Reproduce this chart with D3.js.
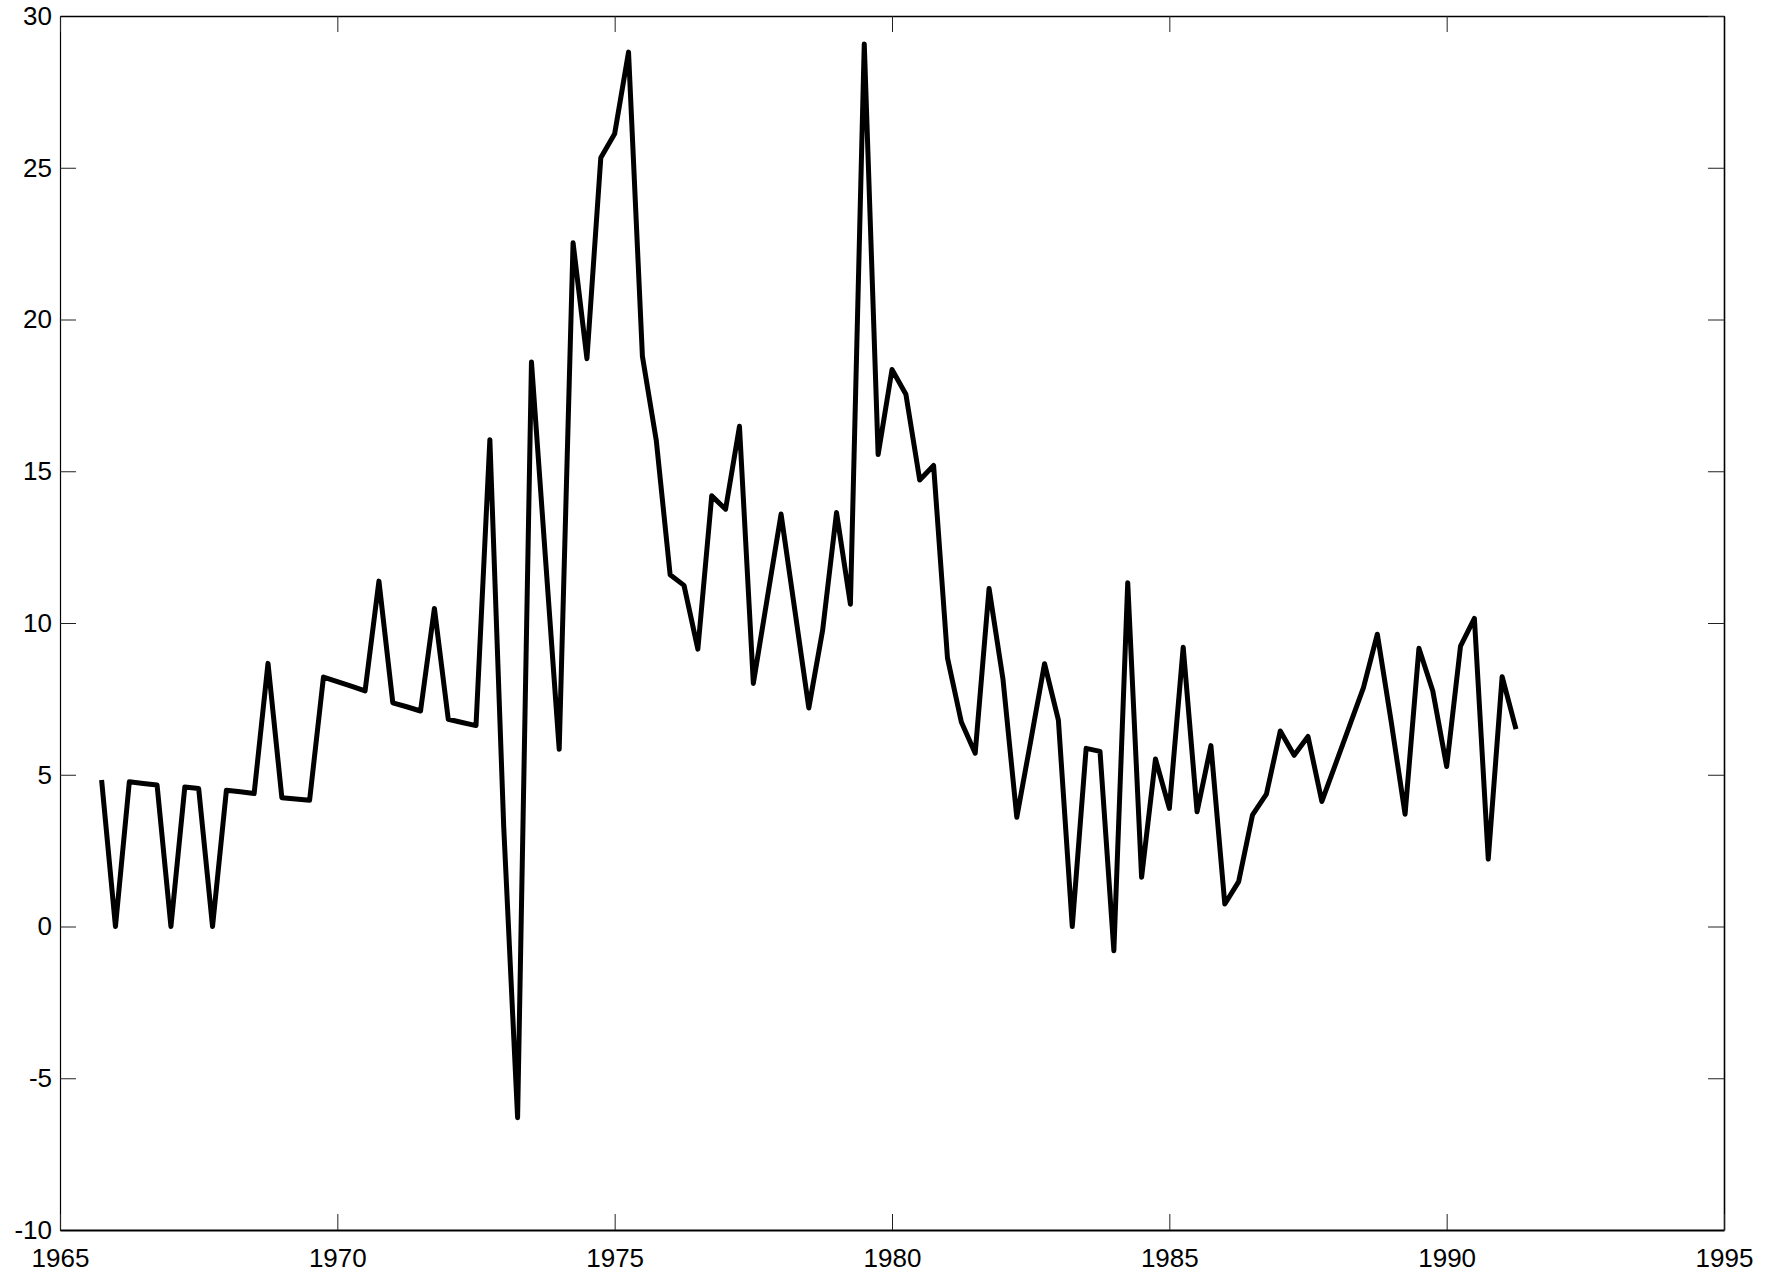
<!DOCTYPE html>
<html>
<head>
<meta charset="utf-8">
<script src="https://cdn.jsdelivr.net/npm/d3@7"></script>
<style>
    html, body { margin: 0; padding: 0; background: #fff; }
    #chart { width: 1771px; height: 1272px; }
    .tick text { font-family: "Liberation Sans", Arial, Helvetica, sans-serif; font-size: 26px; fill: #000; }
    .tick line { stroke: #222; stroke-width: 1; }
</style>
</head>
<body>
<div id="chart"></div>
<script>

const quarters = [
    "1965Q4",
    "1966Q1", "1966Q2", "1966Q3", "1966Q4",
    "1967Q1", "1967Q2", "1967Q3", "1967Q4",
    "1968Q1", "1968Q2", "1968Q3", "1968Q4",
    "1969Q1", "1969Q2", "1969Q3", "1969Q4",
    "1970Q1", "1970Q2", "1970Q3", "1970Q4",
    "1971Q1", "1971Q2", "1971Q3", "1971Q4",
    "1972Q1", "1972Q2", "1972Q3", "1972Q4",
    "1973Q1", "1973Q2", "1973Q3", "1973Q4",
    "1974Q1", "1974Q2", "1974Q3", "1974Q4",
    "1975Q1", "1975Q2", "1975Q3", "1975Q4",
    "1976Q1", "1976Q2", "1976Q3", "1976Q4",
    "1977Q1", "1977Q2", "1977Q3", "1977Q4",
    "1978Q1", "1978Q2", "1978Q3", "1978Q4",
    "1979Q1", "1979Q2", "1979Q3", "1979Q4",
    "1980Q1", "1980Q2", "1980Q3", "1980Q4",
    "1981Q1", "1981Q2", "1981Q3", "1981Q4",
    "1982Q1", "1982Q2", "1982Q3", "1982Q4",
    "1983Q1", "1983Q2", "1983Q3", "1983Q4",
    "1984Q1", "1984Q2", "1984Q3", "1984Q4",
    "1985Q1", "1985Q2", "1985Q3", "1985Q4",
    "1986Q1", "1986Q2", "1986Q3", "1986Q4",
    "1987Q1", "1987Q2", "1987Q3", "1987Q4",
    "1988Q1", "1988Q2", "1988Q3", "1988Q4",
    "1989Q1", "1989Q2", "1989Q3", "1989Q4",
    "1990Q1", "1990Q2", "1990Q3", "1990Q4",
    "1991Q1", "1991Q2"
];

const values = [
    4.83,
    0, 4.77, 4.71, 4.66,
    0, 4.6, 4.55, 0,
    4.49, 4.44, 4.38, 8.67,
    4.24, 4.2, 4.16, 8.22,
    8.07, 7.92, 7.76, 11.38,
    7.37, 7.24, 7.1, 10.48,
    6.83, 6.72, 6.62, 16.04,
    3.27, -6.3, 18.6, 12.2,
    5.84, 22.53, 18.71, 25.33,
    26.12, 28.81, 18.79, 16.02,
    11.59, 11.24, 9.14, 14.19,
    13.75, 16.48, 8.01, 10.8,
    13.59, 10.4, 7.2, 9.77,
    13.64, 10.62, 29.08, 15.55,
    18.35, 17.54, 14.71, 15.19,
    8.85, 6.74, 5.71, 11.14,
    8.16, 3.6, 6.1, 8.66,
    6.8, 0, 5.87, 5.77,
    -0.8, 11.33, 1.62, 5.52,
    3.89, 9.2, 3.78, 5.96,
    0.74, 1.48, 3.68, 4.36,
    6.44, 5.64, 6.26, 4.12,
    5.37, 6.62, 7.87, 9.63,
    6.75, 3.7, 9.17, 7.76,
    5.27, 9.24, 10.15, 2.22,
    8.23, 6.5
];

const xTicks = [1965, 1970, 1975, 1980, 1985, 1990, 1995];
const yTicks = [-10, -5, 0, 5, 10, 15, 20, 25, 30];


class LineVis {

    constructor(parentElement, quarters, values) {
        this.parentElement = parentElement;
        this.quarters = quarters;
        this.values = values;
        this.initVis();
    }

    initVis() {
        let vis = this;

        vis.margin = {top: 16, right: 47, bottom: 42, left: 60};
        vis.width = 1771 - vis.margin.left - vis.margin.right;
        vis.height = 1272 - vis.margin.top - vis.margin.bottom;

        vis.svg = d3.select(`#${vis.parentElement}`).append("svg")
            .attr("width", vis.width + vis.margin.left + vis.margin.right)
            .attr("height", vis.height + vis.margin.top + vis.margin.bottom)
            .append("g")
            .attr("transform", `translate(${vis.margin.left},${vis.margin.top})`);

        vis.xScale = d3.scaleLinear().domain([1965, 1995]).range([0, vis.width]);
        vis.yScale = d3.scaleLinear().domain([-10, 30]).range([vis.height, 0]);

        // ticks point inward on every side of the box
        vis.xAxis = d3.axisBottom(vis.xScale).tickValues(xTicks)
            .tickSizeInner(-16).tickSizeOuter(0).tickPadding(19)
            .tickFormat(d => String(d));
        vis.yAxis = d3.axisLeft(vis.yScale).tickValues(yTicks)
            .tickSizeInner(-16).tickSizeOuter(0).tickPadding(8)
            .tickFormat(d => String(d));
        vis.topAxis = d3.axisTop(vis.xScale).tickValues(xTicks)
            .tickSizeInner(-16).tickSizeOuter(0).tickFormat("");
        vis.rightAxis = d3.axisRight(vis.yScale).tickValues(yTicks)
            .tickSizeInner(-16).tickSizeOuter(0).tickFormat("");

        vis.svg.append("g").attr("class", "y-axis").call(vis.yAxis)
            .select(".domain").attr("stroke", "#000").attr("stroke-width", 1.2);

        vis.svg.append("g").attr("class", "top-axis").call(vis.topAxis)
            .select(".domain").attr("stroke", "#000").attr("stroke-width", 1.6);

        vis.svg.append("g").attr("class", "right-axis")
            .attr("transform", `translate(${vis.width},0)`)
            .call(vis.rightAxis)
            .select(".domain").attr("stroke", "#000").attr("stroke-width", 1.6);

        vis.svg.append("g").attr("class", "x-axis")
            .attr("transform", `translate(0,${vis.height})`)
            .call(vis.xAxis)
            .select(".domain").attr("stroke", "#000").attr("stroke-width", 2);

        vis.wrangleData();
    }

    wrangleData() {
        let vis = this;

        // "1973Q2" -> 1973.25
        vis.displayData = vis.quarters.map((q, i) => ({
            t: +q.slice(0, 4) + (+q.slice(5) - 1) / 4,
            v: vis.values[i]
        }));

        vis.updateVis();
    }

    updateVis() {
        let vis = this;

        vis.line = d3.line()
            .x(d => vis.xScale(d.t))
            .y(d => vis.yScale(d.v));

        vis.svg.append("path")
            .datum(vis.displayData)
            .attr("class", "series")
            .attr("fill", "none")
            .attr("stroke", "#000")
            .attr("stroke-width", 5)
            .attr("stroke-linejoin", "round")
            .attr("stroke-linecap", "butt")
            .attr("d", vis.line);
    }
}

new LineVis("chart", quarters, values);

</script>
</body>
</html>
